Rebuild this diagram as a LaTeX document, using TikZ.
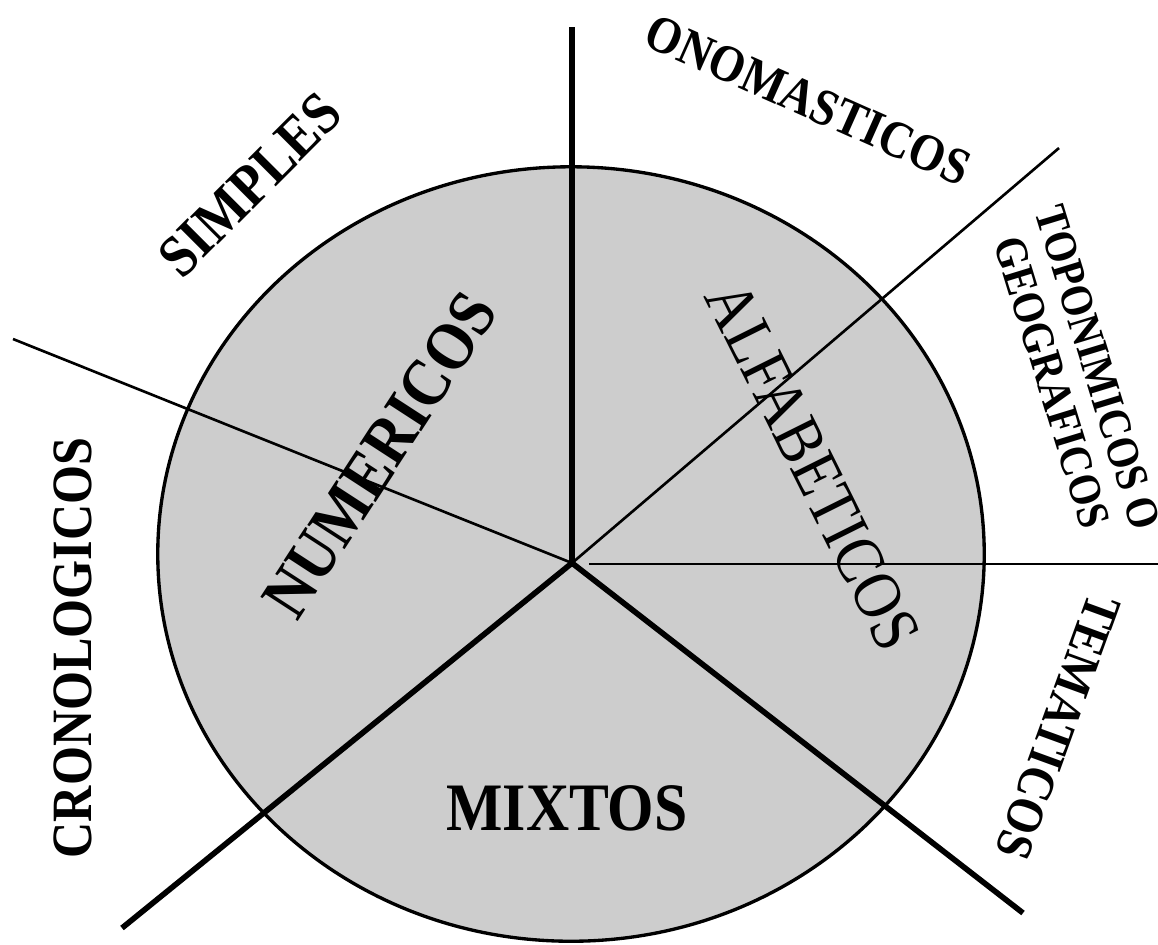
\documentclass[tikz,border=0pt]{standalone}
\usepackage{fontspec}
\setmainfont[FakeStretch=0.88]{Liberation Serif}
\usetikzlibrary{calc}
\definecolor{cDisc}{HTML}{CDCDCD}
\definecolor{cLine}{HTML}{000000}

\begin{document}
\begin{tikzpicture}[
  x=0.01cm, y=-0.01cm,
  spokethick/.style={draw=cLine, line width=1.6pt},
  spokethin/.style={draw=cLine, line width=0.75pt},
  outlabel/.style={inner sep=0pt, font=\bfseries\fontsize{14.8}{17}\selectfont},
  inlabel/.style={inner sep=0pt, font=\bfseries\fontsize{19.3}{22}\selectfont},
]
\path[use as bounding box] (0,0) rectangle (1158,944);

% --- disc ---
\draw[cLine, line width=0.95pt, fill=cDisc] (571,554) ellipse [x radius=4.13cm, y radius=3.87cm];

% --- spoke ends ---
\coordinate (hub) at (572,563);
\coordinate (top) at (572,27);
\coordinate (lowleft) at (122,928);
\coordinate (lowright) at (1023,913);
\coordinate (upleft) at (13,339);
\coordinate (upright) at (1059,148);
\coordinate (midstart) at (589,564);
\coordinate (midend) at (1158,564);

\draw[spokethick] (top) -- (hub);
\draw[spokethick] (hub) -- (lowleft);
\draw[spokethick] (hub) -- (lowright);
\draw[spokethin] (upleft) -- (hub);
\draw[spokethin] (hub) -- (upright);
\draw[spokethin] (midstart) -- (midend);

% --- labels outside the disc ---
\node[outlabel, rotate=45, font=\bfseries\fontsize{17}{20}\selectfont] (simples) at (250,185) {SIMPLES};
\node[outlabel, rotate=-24] (onomast) at (808,100) {ONOMASTICOS};
\node[outlabel, rotate=-73, align=center, font=\bfseries\fontsize{13}{13.6}\selectfont]
  (toponim) at (1075,375) {TOPONIMICOS O\\GEOGRAFICOS};
\node[outlabel, rotate=90, font=\bfseries\fontsize{16.2}{19}\selectfont] (cronolog) at (73,648) {CRONOLOGICOS};
\node[outlabel, rotate=-110] (tematic) at (1058,727) {TEMATICOS};

% --- labels inside the disc ---
\node[inlabel, rotate=57] (numeric) at (380,455) {NUMERICOS};
\node[inlabel, rotate=-63.5, font=\fontsize{19.3}{22}\selectfont] (alfabet) at (813,466) {ALFABETICOS};
\node[inlabel] (mixtos) at (567,808) {MIXTOS};

\end{tikzpicture}
\end{document}
